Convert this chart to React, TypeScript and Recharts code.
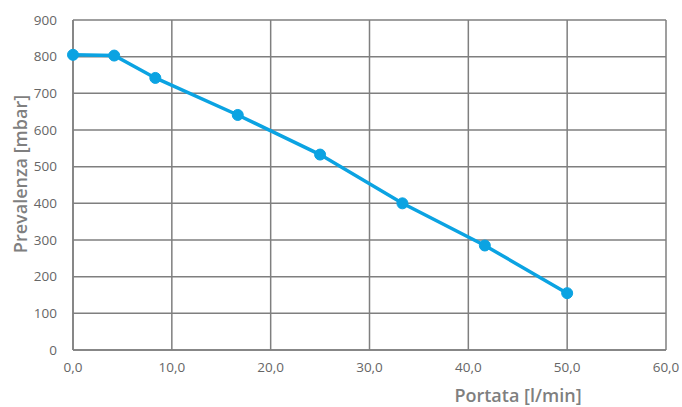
import { LineChart, Line, XAxis, YAxis, CartesianGrid } from 'recharts';

const portata = [0, 4.17, 8.33, 16.67, 25, 33.33, 41.67, 50];
const prevalenza = [805, 803, 742, 641, 533, 400, 285, 155];
const xTicks = [0, 10, 20, 30, 40, 50, 60];
const yTicks = [0, 100, 200, 300, 400, 500, 600, 700, 800, 900];

const data = portata.map((x, i) => ({ x, y: prevalenza[i] }));

const GRID = '#7f7f7f';
const BLUE = '#0ba3e2';
const FONT = '"Open Sans", "Noto Sans", sans-serif';

export default function App() {
  return (
    <div style={{ position: 'absolute', left: 0, top: 0, width: 682, height: 407, background: '#fff', fontFamily: FONT }}>
      <LineChart width={682} height={407} data={data} margin={{ top: 20, right: 16, bottom: 27, left: 0 }}>
        <CartesianGrid stroke={GRID} strokeWidth={1.5} />
        <XAxis
          type="number"
          dataKey="x"
          domain={[0, 60]}
          ticks={xTicks}
          interval={0}
          tickFormatter={(v: number) => v.toFixed(1).replace('.', ',')}
          tick={{ fill: '#666666', fontSize: 13.5, fontFamily: FONT }}
          tickLine={false}
          tickSize={0}
          tickMargin={12}
          axisLine={{ stroke: GRID, strokeWidth: 1.5 }}
          height={30}
        />
        <YAxis
          type="number"
          domain={[0, 900]}
          ticks={yTicks}
          interval={0}
          tick={{ fill: '#666666', fontSize: 13.5, fontFamily: FONT }}
          tickLine={false}
          tickSize={0}
          tickMargin={16}
          axisLine={{ stroke: GRID, strokeWidth: 1.5 }}
          width={73}
        />
        <Line
          type="linear"
          dataKey="y"
          stroke={BLUE}
          strokeWidth={3.5}
          dot={{ r: 5.5, fill: BLUE, stroke: BLUE, strokeWidth: 1 }}
          activeDot={false}
          isAnimationActive={false}
        />
        <text x={518} y={395} textAnchor="middle" dominantBaseline="central" fill="#7f7f7f" fontSize={18} fontWeight={600} fontFamily={FONT}>
          Portata [l/min]
        </text>
        <text x={20} y={174} textAnchor="middle" dominantBaseline="central" fill="#7f7f7f" fontSize={18} fontWeight={600} fontFamily={FONT} transform="rotate(-90 20 174)">
          Prevalenza [mbar]
        </text>
      </LineChart>
    </div>
  );
}
